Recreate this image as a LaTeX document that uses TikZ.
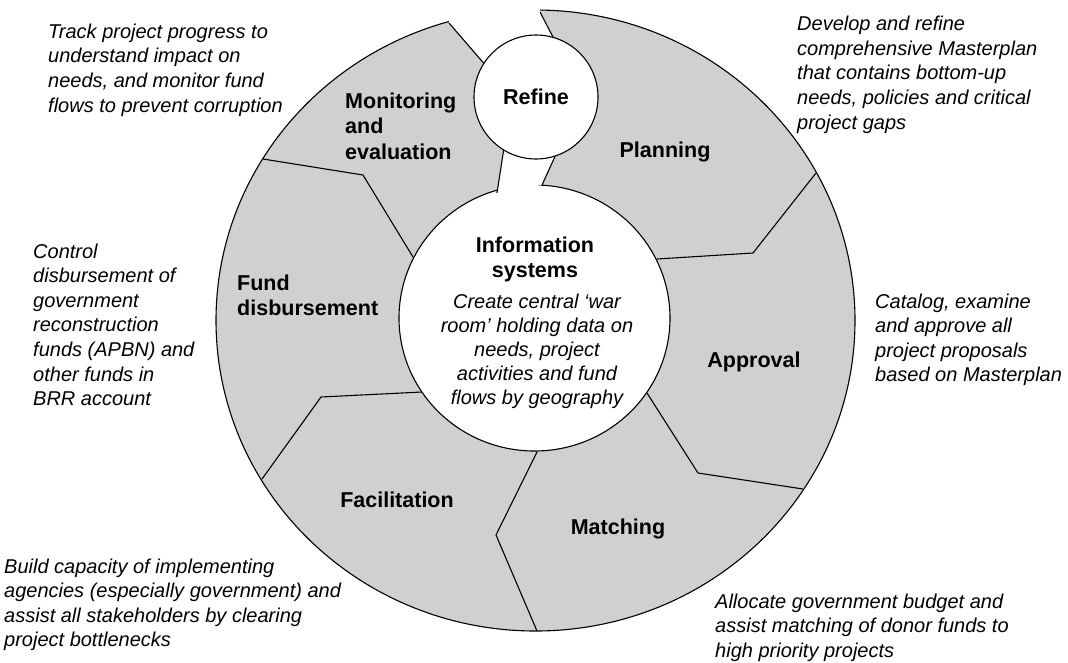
\documentclass[tikz,border=0pt]{standalone}
\usepackage{fontspec}
\setmainfont{Liberation Sans}
\definecolor{ringgray}{RGB}{208,208,208}
\newcommand{\boxtext}[3]{\parbox[t]{#1}{#2#3}}
\begin{document}
\begin{tikzpicture}[x=1pt,y=-1pt,
  outline/.style={draw=black, line width=1.1pt},
  lab/.style={font=\fontsize{21.5}{25.5}\selectfont\bfseries, inner sep=0pt},
  note/.style={font=\fontsize{20}{24.6}\selectfont\itshape, inner sep=0pt, anchor=base west},
  mid/.style={font=\fontsize{20}{24}\selectfont\itshape, inner sep=0pt, anchor=base}]
\useasboundingbox (0,0) rectangle (1068,662);

% ring body
\fill[ringgray, even odd rule]
  (535.5,320.5) ellipse [x radius=319.5, y radius=310.5]
  (534.5,318) ellipse [x radius=135.5, y radius=133];
\draw[outline] (535.5,320.5) ellipse [x radius=319.5, y radius=310.5];
\draw[outline] (534.5,318) ellipse [x radius=135.5, y radius=133];

% gap at the top (between Monitoring and Planning)
\fill[white] (449,23) -- (512,96) -- (497,193) -- (542,185) -- (583,95) -- (540,12)
  -- (540,-2) -- (449,-2) -- cycle;

% segment boundaries
\draw[outline] (816,173) -- (753,253) -- (657,259);
\draw[outline] (803,489) -- (698,473) -- (647,393);
\draw[outline] (537,631) -- (496,535) -- (537,452);
\draw[outline] (262,479) -- (321,397) -- (422,392);
\draw[outline] (263,159) -- (363,175) -- (413,257);
\draw[outline] (449,23) -- (512,96) -- (497,193);
\draw[outline] (540,12) -- (583,95) -- (542,185);

% Refine circle
\node[circle, outline, fill=white, minimum size=124pt, inner sep=0pt,
  font=\fontsize{21.5}{25.5}\selectfont\bfseries] (refine) at (536,97) {Refine};

% segment labels
\node[lab, anchor=base west] (monitoring) at (345,108)
  {\boxtext{150pt}{\raggedright}{Monitoring\\and\\evaluation}};
\node[lab, anchor=base] (planning) at (665,157) {\boxtext{200pt}{\centering}{Planning}};
\node[lab, anchor=base] (approval) at (754,367) {\boxtext{200pt}{\centering}{Approval}};
\node[lab, anchor=base] (matching) at (618,534) {\boxtext{200pt}{\centering}{Matching}};
\node[lab, anchor=base] (facilitation) at (397,507) {\boxtext{200pt}{\centering}{Facilitation}};
\node[lab, anchor=base west] (fund) at (237,290)
  {\boxtext{200pt}{\raggedright}{Fund\\disbursement}};

% centre
\node[lab, anchor=base] (info) at (535,252)
  {\boxtext{260pt}{\centering}{Information\\systems}};
\node[mid] (infotext) at (537,308)
  {\boxtext{260pt}{\centering}{Create central ‘war\\room’ holding data on\\needs, project\\activities and fund\\flows by geography}};

% annotations
\node[note] (ntrack) at (48,38.3)
  {\boxtext{300pt}{\raggedright}{Track project progress to\\understand impact on\\needs, and monitor fund\\flows to prevent corruption}};
\node[note] (ndevelop) at (797,30.7)
  {\boxtext{300pt}{\raggedright}{Develop and refine\\comprehensive Masterplan\\that contains bottom-up\\needs, policies and critical\\project gaps}};
\node[note] (ncontrol) at (33,258)
  {\boxtext{200pt}{\raggedright}{Control\\disbursement of\\government\\reconstruction\\funds (APBN) and\\other funds in\\BRR account}};
\node[note] (ncatalog) at (875,308)
  {\boxtext{200pt}{\raggedright}{Catalog, examine\\and approve all\\project proposals\\based on Masterplan}};
\node[note] (nbuild) at (4,573)
  {\boxtext{400pt}{\raggedright}{Build capacity of implementing\\agencies (especially government) and\\assist all stakeholders by clearing\\project bottlenecks}};
\node[note] (nallocate) at (715,608)
  {\boxtext{400pt}{\raggedright}{Allocate government budget and\\assist matching of donor funds to\\high priority projects}};
\end{tikzpicture}
\end{document}
